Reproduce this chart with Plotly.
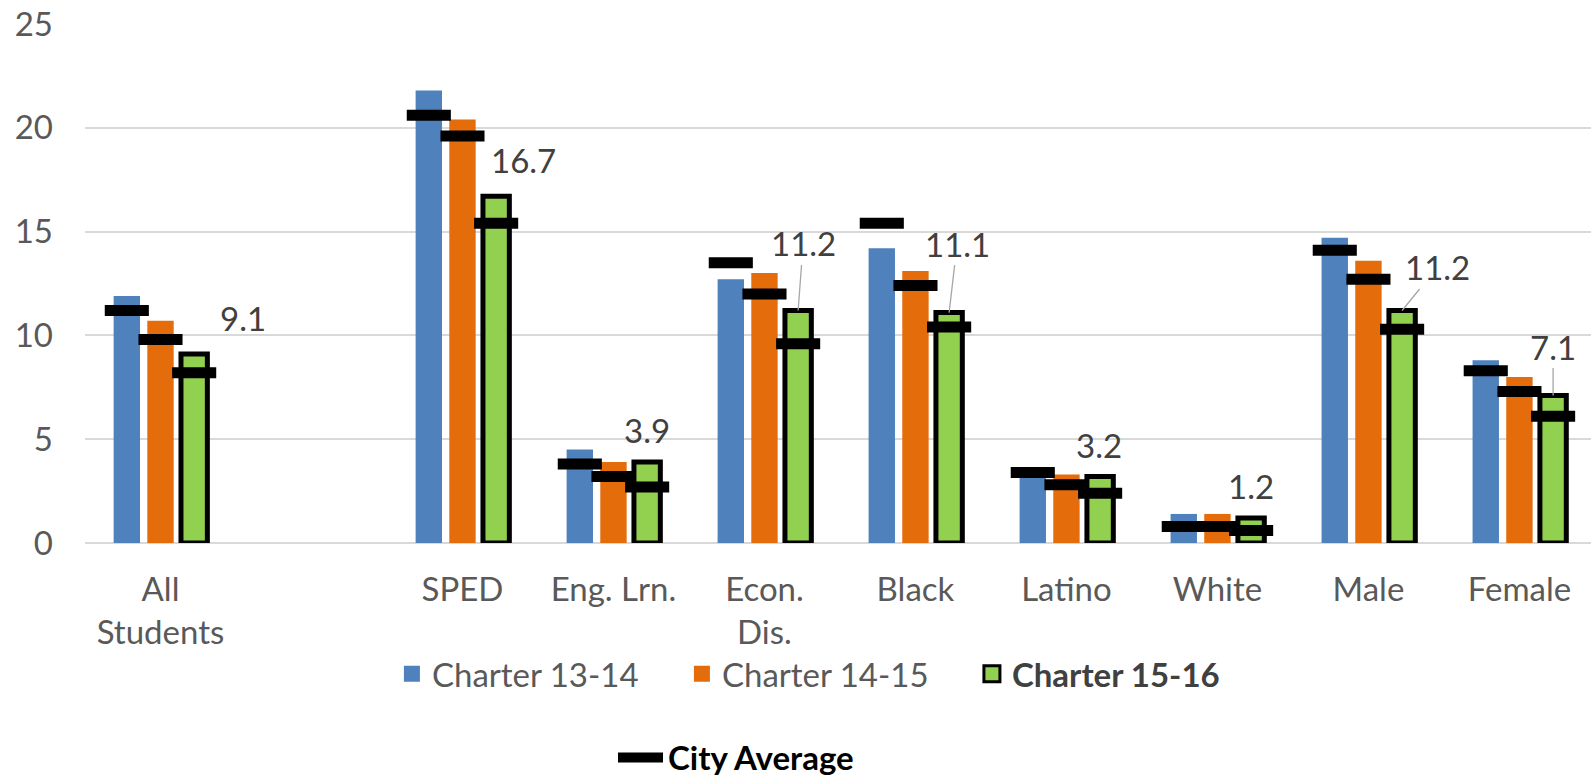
import plotly.graph_objects as go

# ---------------- data ----------------
categories = ["All<br>Students", " ", "SPED", "Eng. Lrn.", "Econ.<br>Dis.",
              "Black", "Latino", "White", "Male", "Female"]
charter_13_14 = [11.9, None, 21.8, 4.5, 12.7, 14.2, 3.3, 1.4, 14.7, 8.8]
charter_14_15 = [10.7, None, 20.4, 3.9, 13.0, 13.1, 3.3, 1.4, 13.6, 8.0]
charter_15_16 = [9.1, None, 16.7, 3.9, 11.2, 11.1, 3.2, 1.2, 11.2, 7.1]
city_avg_13_14 = [11.2, None, 20.6, 3.8, 13.5, 15.4, 3.4, 0.8, 14.1, 8.3]
city_avg_14_15 = [9.8, None, 19.6, 3.2, 12.0, 12.4, 2.8, 0.8, 12.7, 7.3]
city_avg_15_16 = [8.2, None, 15.4, 2.7, 9.6, 10.4, 2.4, 0.6, 10.3, 6.1]
series_names = ["Charter 13-14", "Charter 14-15", "Charter 15-16"]
y_ticks = [0, 5, 10, 15, 20, 25]

# ---------------- style ----------------
FONT = "Lato"
GRAY = "#595959"
DARK = "#404040"
BLUE = "#4F81BD"
ORANGE = "#E46C0A"
GREEN = "#92D050"
BARGAP = 0.331
GROUPGAP = 0.2165
FS = 33

# label offsets for Charter 15-16 values (px, text centre relative to bar top), leader line flag
label_layout = [(49, -36, False), None, (27, -36, False), (0, -32, False), (5, -67, True),
                (8, -69, True), (-1, -32, False), (0, -32, False), (35, -43, True), (0, -49, True)]

positions = list(range(len(categories)))
slot = (1 - BARGAP) / 3

fig = go.Figure()

bar_series = [charter_13_14, charter_14_15, charter_15_16]
avg_series = [city_avg_13_14, city_avg_14_15, city_avg_15_16]
colors = [BLUE, ORANGE, GREEN]
for k, (name, vals, col) in enumerate(zip(series_names, bar_series, colors)):
    is_last = k == len(series_names) - 1
    fig.add_trace(go.Bar(
        x=positions, y=vals, name=name, marker_color=col, showlegend=False,
        marker_line=dict(color="black", width=5) if is_last else dict(width=0),
        hoverinfo="skip",
    ))

for k, vals in enumerate(avg_series):
    fig.add_trace(go.Scatter(
        x=[p + (k - 1) * slot for p in positions], y=vals, mode="markers", showlegend=False,
        marker=dict(symbol="line-ew", size=31.5, color="black",
                    line=dict(color="black", width=11)),
        hoverinfo="skip",
    ))

# legend entries
for k, (name, col) in enumerate(zip(series_names, colors)):
    is_last = k == len(series_names) - 1
    disp = f"<b><span style='color:{DARK}'>{name}</span></b>" if is_last else name
    fig.add_trace(go.Scatter(
        x=[None], y=[None], mode="markers", name=disp, legend="legend",
        marker=dict(symbol="square", size=16, color=col,
                    line=dict(color="black", width=3) if is_last else dict(width=0)),
    ))
fig.add_trace(go.Scatter(x=[None], y=[None], mode="lines", name="<b>City Average</b>",
                         line=dict(color="black", width=10), legend="legend2"))

# data labels for Charter 15-16
for i, v in enumerate(charter_15_16):
    if v is None or label_layout[i] is None:
        continue
    dx, dy, leader = label_layout[i]
    if leader:
        fig.add_annotation(x=positions[i] + slot, y=v, xref="x", yref="y", text=f"{v:.1f}",
                           showarrow=True, arrowhead=0, arrowwidth=1.3, arrowcolor="#A6A6A6",
                           ax=dx, ay=dy, standoff=0,
                           font=dict(family=FONT, size=FS, color=DARK))
    else:
        fig.add_annotation(x=positions[i] + slot, y=v, xref="x", yref="y", text=f"{v:.1f}",
                           showarrow=False, xanchor="center", yanchor="middle",
                           xshift=dx, yshift=-dy,
                           font=dict(family=FONT, size=FS, color=DARK))

fig.update_layout(
    width=1591, height=778,
    margin=dict(l=85, r=0, t=24, b=235, pad=0, autoexpand=False),
    paper_bgcolor="white", plot_bgcolor="white",
    font=dict(family=FONT, size=FS, color=GRAY),
    barmode="group", bargap=BARGAP, bargroupgap=GROUPGAP,
    hovermode=False,
    legend=dict(orientation="h", x=0.2038, xanchor="left", y=-0.2518, yanchor="middle",
                bgcolor="rgba(0,0,0,0)", font=dict(family=FONT, size=FS, color=GRAY),
                entrywidth=245, entrywidthmode="pixels", traceorder="normal",
                itemsizing="trace"),
    legend2=dict(orientation="h", x=(613 - 85) / 1506, xanchor="left", y=-0.4134, yanchor="middle",
                 bgcolor="rgba(0,0,0,0)", itemwidth=45,
                 font=dict(family=FONT, size=FS, color="black")),
)
fig.update_xaxes(type="linear", range=[-0.5, 9.474], tickvals=positions, ticktext=categories,
                 showgrid=False, showline=False, zeroline=False,
                 ticks="", ticklabelstandoff=24, tickfont=dict(family=FONT, size=FS, color=GRAY),
                 fixedrange=True)
fig.update_yaxes(range=[0, 25], tickvals=y_ticks, showgrid=True, gridcolor="#D9D9D9", gridwidth=1.6,
                 zeroline=True, zerolinecolor="#D9D9D9", zerolinewidth=2, showline=False,
                 ticks="", ticklabelstandoff=31, tickfont=dict(family=FONT, size=FS, color=GRAY),
                 fixedrange=True)

fig.write_html("out.html", config={"displayModeBar": False},
               post_script="document.body.style.margin='0';document.body.style.overflow='hidden';")
